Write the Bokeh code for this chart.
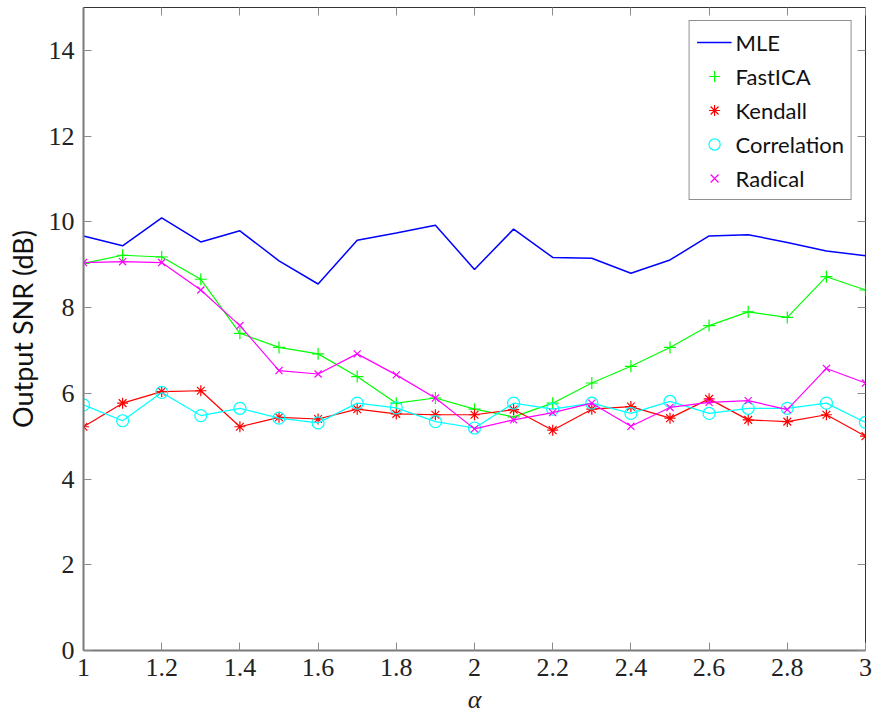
from bokeh.plotting import figure
from bokeh.models import (Range1d, FixedTicker, CustomJSTickFormatter, LinearAxis,
                          Legend, LegendItem)
from bokeh.embed import file_html
from bokeh.resources import INLINE

alpha = [1.0, 1.1, 1.2, 1.3, 1.4, 1.5, 1.6, 1.7, 1.8, 1.9, 2.0,
         2.1, 2.2, 2.3, 2.4, 2.5, 2.6, 2.7, 2.8, 2.9, 3.0]
mle = [9.67, 9.44, 10.09, 9.53, 9.79, 9.09, 8.55, 9.57, 9.74, 9.92, 8.89,
       9.83, 9.17, 9.15, 8.80, 9.11, 9.67, 9.70, 9.52, 9.32, 9.21]
fastica = [9.03, 9.22, 9.18, 8.66, 7.40, 7.07, 6.92, 6.39, 5.77, 5.89, 5.63,
           5.45, 5.77, 6.24, 6.63, 7.07, 7.58, 7.90, 7.77, 8.72, 8.41]
kendall = [5.22, 5.77, 6.04, 6.06, 5.22, 5.44, 5.40, 5.63, 5.52, 5.50, 5.50,
           5.62, 5.14, 5.63, 5.69, 5.42, 5.87, 5.38, 5.34, 5.50, 5.00]
correlation = [5.73, 5.36, 6.02, 5.48, 5.65, 5.42, 5.31, 5.77, 5.66, 5.34, 5.19,
               5.77, 5.63, 5.77, 5.53, 5.81, 5.53, 5.65, 5.65, 5.77, 5.32]
radical = [9.05, 9.07, 9.05, 8.41, 7.58, 6.53, 6.45, 6.92, 6.43, 5.89, 5.17,
           5.38, 5.55, 5.77, 5.23, 5.67, 5.79, 5.83, 5.62, 6.58, 6.24]

x_ticks = [1.0, 1.2, 1.4, 1.6, 1.8, 2.0, 2.2, 2.4, 2.6, 2.8, 3.0]
y_ticks = [0, 2, 4, 6, 8, 10, 12, 14]

p = figure(width=877, height=717, output_backend="svg", toolbar_location=None,
           x_range=Range1d(1, 3), y_range=Range1d(0, 15),
           min_border_left=83, min_border_right=12, min_border_top=7,
           min_border_bottom=67, background_fill_color="white")
p.xgrid.visible = False
p.ygrid.visible = False
p.outline_line_color = "#333333"
p.outline_line_width = 1

num_fmt = CustomJSTickFormatter(code="return String(Math.round(tick*10)/10);")
blank_fmt = CustomJSTickFormatter(code="return '';")

def style_axis(ax, ticker, fmt, line_color):
    ax.ticker = FixedTicker(ticks=ticker)
    ax.formatter = fmt
    ax.major_tick_in = 8
    ax.major_tick_out = 0
    ax.major_tick_line_color = "#8c8c8c"
    ax.major_tick_line_width = 1
    ax.minor_tick_line_color = None
    ax.axis_line_color = line_color
    ax.axis_line_width = 2
    ax.major_label_text_font = "Liberation Serif"
    ax.major_label_text_font_size = "26px"
    ax.major_label_text_color = "#222222"

style_axis(p.xaxis[0], x_ticks, num_fmt, "#7a7a7a")
style_axis(p.yaxis[0], y_ticks, num_fmt, "#7a7a7a")
p.xaxis[0].major_label_standoff = 8
p.yaxis[0].major_label_standoff = 9

p.xaxis[0].axis_label = "α"
p.xaxis[0].axis_label_text_font = "Liberation Serif"
p.xaxis[0].axis_label_text_font_style = "italic"
p.xaxis[0].axis_label_text_font_size = "26px"
p.xaxis[0].axis_label_standoff = 6
p.xaxis[0].axis_label_text_color = "#222222"

p.yaxis[0].axis_label = "Output SNR (dB)"
p.yaxis[0].axis_label_text_font = "Lato"
p.yaxis[0].axis_label_text_font_style = "normal"
p.yaxis[0].axis_label_text_font_size = "27px"
p.yaxis[0].axis_label_standoff = 7
p.yaxis[0].axis_label_text_color = "#111111"

ra = LinearAxis()
style_axis(ra, y_ticks, blank_fmt, None)
ra.major_label_standoff = 0
p.add_layout(ra, "right")
ta = LinearAxis()
style_axis(ta, x_ticks, blank_fmt, None)
ta.major_label_standoff = 0
p.add_layout(ta, "above")

r_mle = p.line(alpha, mle, line_color="#0000ff", line_width=1.5)

l_f = p.line(alpha, fastica, line_color="#00ff00", line_width=1.2)
s_f = p.scatter(alpha, fastica, marker="cross", size=12, line_color="#00ff00", line_width=1.2)
l_k = p.line(alpha, kendall, line_color="#ff0000", line_width=1.2)
s_k = p.scatter(alpha, kendall, marker="asterisk", size=11, line_color="#ff0000", line_width=1.2)
l_c = p.line(alpha, correlation, line_color="#00ffff", line_width=1.2)
s_c = p.scatter(alpha, correlation, marker="circle", size=12, line_color="#00ffff",
                fill_color=None, line_width=1.2)
l_r = p.line(alpha, radical, line_color="#ff00ff", line_width=1.2)
s_r = p.scatter(alpha, radical, marker="x", size=10, line_color="#ff00ff", line_width=1.2)

legend = Legend(items=[
    LegendItem(label="MLE", renderers=[r_mle]),
    LegendItem(label="FastICA", renderers=[s_f]),
    LegendItem(label="Kendall", renderers=[s_k]),
    LegendItem(label="Correlation", renderers=[s_c]),
    LegendItem(label="Radical", renderers=[s_r]),
], location="top_right")
legend.border_line_color = "#222222"
legend.border_line_width = 1.2
legend.label_text_font = "Lato"
legend.label_text_font_size = "22px"
legend.label_text_color = "#111111"
legend.glyph_width = 35
legend.glyph_height = 28
legend.label_height = 28
legend.spacing = 6
legend.padding = 7
legend.margin = 13
legend.label_standoff = 4
legend.background_fill_alpha = 1
p.add_layout(legend)

open("out.html", "w").write(file_html(p, INLINE))
